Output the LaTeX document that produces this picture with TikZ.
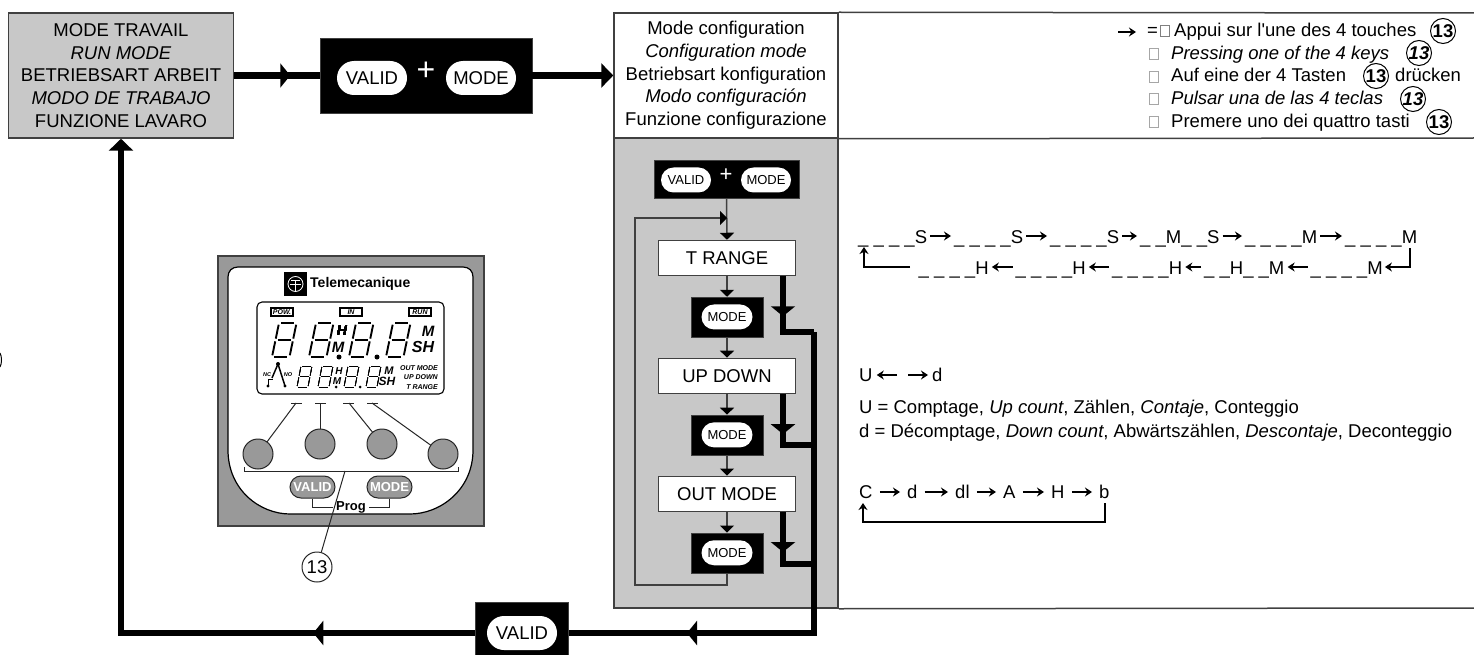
\documentclass[tikz,border=0pt]{standalone}
\usepackage{fontspec}
\setmainfont{Liberation Sans}[Ligatures=TeXOff]
\usetikzlibrary{positioning, arrows.meta, shapes.misc, decorations.markings}
\definecolor{panelgray}{RGB}{200,200,200}
\definecolor{devicegray}{RGB}{153,153,153}
\definecolor{linegray}{RGB}{64,64,64}
\newcommand{\bigtxt}{\fontsize{18.5}{22.7}\selectfont}
\newcommand{\smalltxt}{\fontsize{13}{15}\selectfont}
% slanted seven segment digit: x, y, width, height, slant, line width
\newcommand{\lcddigit}[6]{
\begin{scope}[shift={(#1,#2)}, x={(#3pt,0pt)}, y={(#5pt,#4pt)}, line width=#6pt, draw=black]
\draw (0.12,1) -- (0.88,1);
\draw (0.12,0.5) -- (0.88,0.5);
\draw (0.12,0) -- (0.88,0);
\draw (0,0.05) -- (0,0.46);
\draw (0,0.54) -- (0,0.95);
\draw (1,0.05) -- (1,0.46);
\draw (1,0.54) -- (1,0.95);
\end{scope}
}
\begin{document}
\begin{tikzpicture}[x=1pt, y=-1pt, font=\bigtxt, node distance=20.5pt,
titlebox/.style={rectangle, draw=linegray, line width=1.5pt, align=center, inner sep=0pt},
stepbox/.style={rectangle, draw=linegray, line width=1.5pt, fill=white, minimum width=137pt, minimum height=35pt, inner sep=0pt},
keybox/.style={rectangle, draw=linegray, fill=black, inner sep=0pt},
keypill/.style={rounded rectangle, fill=white, inner sep=0pt, minimum width=#1pt},
rowtxt/.style={anchor=base west, inner sep=0pt},
tofu/.style={rectangle, draw=gray!70, line width=0.7pt, minimum width=9pt, minimum height=11pt, inner sep=0pt},
ringnum/.style={circle, draw=black, line width=1pt, minimum size=25pt, inner sep=0pt, font=\bigtxt\bfseries},
thickline/.style={line width=6.5pt, draw=black},
flowline/.style={line width=1.5pt, draw=linegray},
flowarrow/.style={flowline, -{Triangle[length=7pt,width=14pt,color=black]}},
bigarrow/.style={thickline, -{Triangle[length=12pt,width=24pt]}},
rowarrow/.style={line width=2pt, -{Stealth[length=7pt,width=9pt]}, shorten >=#1pt, shorten <=#1pt},
rowarrow/.default=3,
midhead/.style={postaction={decorate, decoration={markings, mark=at position #1pt with {\arrow{Triangle[length=10pt,width=24pt]}}}}},
lcdtxt/.style={inner sep=0pt, font=\fontsize{#1}{#1}\selectfont\bfseries\itshape},
padline/.style={draw=black!85, line width=1pt}
]
\useasboundingbox (0,0) rectangle (1474,655);

% Configuration table
\node[titlebox, fill=panelgray, minimum width=224pt, minimum height=470pt] (panel) at (726,373) {};
\node[titlebox, minimum width=224pt, minimum height=125pt] (cfgmode) at (726,75.5)
{Mode configuration\\\textit{Configuration mode}\\Betriebsart konfiguration\\\textit{Modo configuración}\\Funzione configurazione};
\coordinate (tabletop) at (1474,13);
\coordinate (tablemid) at (1474,138);
\coordinate (tablebot) at (1474,608);
\draw[flowline] (cfgmode.north east) -- (tabletop);
\draw[flowline] (cfgmode.south east) -- (tablemid);
\draw[flowline] (panel.south east) -- (tablebot);

% Run mode
\node[titlebox, fill=panelgray, minimum width=225pt, minimum height=125pt] (runmode) at (121,75.5)
{MODE TRAVAIL\\\textit{RUN MODE}\\BETRIEBSART ARBEIT\\\textit{MODO DE TRABAJO}\\FUNZIONE LAVARO};

% Top keys
\node[keybox, minimum width=212pt, minimum height=75pt] (topkeys) at (426,75.5) {};
\node[keypill=70, minimum height=34pt] (topvalid) at (372,78) {VALID};
\node[keypill=70, minimum height=34pt] (topmode) at (481,78) {MODE};
\node[text=white, inner sep=0pt, font=\fontsize{32}{32}\selectfont] (topplus) at (426,71) {+};

% Flow column
\node[keybox, minimum width=145pt, minimum height=38pt] (flowkeys) at (726.5,179) {};
\node[keypill=50, minimum height=25pt, font=\smalltxt] (flowvalid) at (686,180) {VALID};
\node[keypill=50, minimum height=25pt, font=\smalltxt] (flowmode) at (766,180) {MODE};
\node[text=white, inner sep=0pt, font=\fontsize{22}{22}\selectfont] (flowplus) at (726,175) {+};
\node[stepbox] (trange) at (727,258) {T RANGE};
\node[keybox, minimum width=72pt, minimum height=40pt, below=of trange] (modeA) {};
\node[keypill=51, minimum height=25pt, font=\smalltxt] (pillA) at (modeA) {MODE};
\node[stepbox, below=of modeA] (updown) {UP DOWN};
\node[keybox, minimum width=72pt, minimum height=40pt, below=of updown] (modeB) {};
\node[keypill=51, minimum height=25pt, font=\smalltxt] (pillB) at (modeB) {MODE};
\node[stepbox, below=of modeB] (outmode) {OUT MODE};
\node[keybox, minimum width=72pt, minimum height=40pt, below=of outmode] (modeC) {};
\node[keypill=51, minimum height=25pt, font=\smalltxt] (pillC) at (modeC) {MODE};

% Bottom key
\node[keybox, minimum width=93pt, minimum height=53pt] (botkey) at (522,628.5) {};
\node[keypill=70, minimum height=34pt] (botvalid) at (522,633) {VALID};

% Thick arrows
\coordinate (joinA) at (814,332);
\coordinate (joinB) at (814,445);
\coordinate (joinC) at (814,564);
\coordinate (trunkend) at (814,633);
\draw[thickline, midhead=56] (runmode.east) -- (topkeys.west);
\draw[bigarrow] (topkeys.east) -- (cfgmode.west);
\draw[thickline, midhead=40, line join=miter] ([xshift=56pt]trange.south) |- (joinA);
\draw[thickline, midhead=40, line join=miter] ([xshift=56pt]updown.south) |- (joinB);
\draw[thickline, midhead=40, line join=miter] ([xshift=56pt]outmode.south) |- (joinC);
\draw[thickline, midhead=428, line join=miter] (joinA) -- (trunkend) -- (trunkend -| botkey.east);
\draw[bigarrow, midhead=162, line join=miter] (botkey.west |- trunkend) -| (runmode.south);

% Thin arrows
\coordinate (loopbl) at (635,585);
\coordinate (looptl) at (635,218);
\coordinate (loopin) at (727,218);
\draw[flowarrow] (flowkeys.south) -- (trange.north);
\draw[flowarrow] (trange.south) -- (modeA.north);
\draw[flowarrow] (modeA.south) -- (updown.north);
\draw[flowarrow] (updown.south) -- (modeB.north);
\draw[flowarrow] (modeB.south) -- (outmode.north);
\draw[flowarrow] (outmode.south) -- (modeC.north);
\draw[flowarrow] (modeC.south) |- (loopbl) -- (looptl) -- (loopin);

% Key legend
\coordinate (keytail) at (1118,32);
\node[rowtxt] (keyeq) at (1147,37) {=};
\draw[rowarrow=0] (keytail) -- ([xshift=-11pt,yshift=5pt]keyeq.base west);
\node[tofu, draw=gray] (tofuA) at (1165,31) {};
\node[tofu] (tofuB) at (1153.5,54) {};
\node[tofu] (tofuC) at (1153.5,77) {};
\node[tofu] (tofuD) at (1153.5,99) {};
\node[tofu] (tofuE) at (1153.5,122) {};
\node[rowtxt] (keyfr) at (1174,37) {Appui sur l'une des 4 touches};
\node[rowtxt] (keyen) at (1171,59.5) {\textit{Pressing one of the 4 keys}};
\node[rowtxt] (keyde) at (1171,82) {Auf eine der 4 Tasten};
\node[rowtxt] (keydeb) at (1395,82) {drücken};
\node[rowtxt] (keyes) at (1171,105) {\textit{Pulsar una de las 4 teclas}};
\node[rowtxt] (keyit) at (1171,128) {Premere uno dei quattro tasti};
\node[ringnum] (ringfr) at (1443,31) {13};
\node[ringnum, font=\bigtxt\bfseries\itshape] (ringen) at (1419,53) {13};
\node[ringnum] (ringde) at (1376,76) {13};
\node[ringnum, font=\bigtxt\bfseries\itshape] (ringes) at (1413,99) {13};
\node[ringnum] (ringit) at (1439,122) {13};

% T RANGE sequence
\node[rowtxt] (toA) at (858,243) {\_ \_ \_ \_S};
\node[rowtxt] (toB) at (954,243) {\_ \_ \_ \_S};
\node[rowtxt] (toC) at (1050,243) {\_ \_ \_ \_S};
\node[rowtxt] (toD) at (1140,243) {\_ \_M\_ \_S};
\node[rowtxt] (toE) at (1245,243) {\_ \_ \_ \_M};
\node[rowtxt] (toF) at (1345,243) {\_ \_ \_ \_M};
\foreach \a/\b in {toA/toB, toB/toC, toC/toD, toD/toE, toE/toF}
  \draw[rowarrow] ([yshift=7pt]\a.base east) -- ([yshift=7pt]\b.base west);
\node[rowtxt] (boA) at (918.5,274) {\_ \_ \_ \_H};
\node[rowtxt] (boB) at (1015.5,274) {\_ \_ \_ \_H};
\node[rowtxt] (boC) at (1112,274) {\_ \_ \_ \_H};
\node[rowtxt] (boD) at (1204,274) {\_ \_H\_ \_M};
\node[rowtxt] (boE) at (1310.5,274) {\_ \_ \_ \_M};
\foreach \a/\b in {boB/boA, boC/boB, boD/boC, boE/boD}
  \draw[rowarrow] ([yshift=7pt]\a.base west) -- ([yshift=7pt]\b.base east);
\coordinate (seqR) at (1410,248);
\coordinate (seqRc) at (1410,267);
\coordinate (seqL) at (910,267);
\coordinate (seqLc) at (864,267);
\coordinate (seqLup) at (864,247);
\draw[rowarrow=0] (seqR) -- (seqRc) -- ([yshift=7pt,xshift=2pt]boE.base east);
\draw[rowarrow=0] (seqL) -- (seqLc) -- (seqLup);

% Up down
\node[rowtxt] (upU) at (859,381) {U};
\node[rowtxt] (upD) at (932,381) {d};
\coordinate (upmidL) at (897,375);
\coordinate (upmidR) at (908,375);
\draw[rowarrow=0] (upmidL) -- ([xshift=4pt,yshift=6pt]upU.base east);
\draw[rowarrow=0] (upmidR) -- ([xshift=-4pt,yshift=6pt]upD.base west);
\node[rowtxt] (upline) at (859,413) {U = Comptage, \textit{Up count}, Zählen, \textit{Contaje}, Conteggio};
\node[rowtxt] (downline) at (859,437) {d = Décomptage, \textit{Down count}, Abwärtszählen, \textit{Descontaje}, Deconteggio};

% Out mode
\node[rowtxt] (outC) at (859,498) {C};
\node[rowtxt] (outd) at (907,498) {d};
\node[rowtxt] (outdl) at (955,498) {dl};
\node[rowtxt] (outA) at (1003,498) {A};
\node[rowtxt] (outH) at (1051,498) {H};
\node[rowtxt] (outb) at (1099,498) {b};
\foreach \a/\b in {outC/outd, outd/outdl, outdl/outA, outA/outH, outH/outb}
  \draw[rowarrow=7] ([yshift=6pt]\a.base east) -- ([yshift=6pt]\b.base west);
\coordinate (outR) at (1105,503);
\coordinate (outRc) at (1105,522);
\coordinate (outLc) at (863,522);
\coordinate (outLup) at (863,503);
\draw[rowarrow=0] (outR) -- (outRc) -- (outLc) -- (outLup);

% Device
\draw[draw=linegray, line width=1.2pt, fill=devicegray] (218,256) rectangle (484,526);
\draw[draw=black, line width=1.2pt, fill=white] (238,267) -- (463,267)
  .. controls (469,267) and (473,271) .. (473,277) -- (473,450)
  .. controls (473,490) and (440,514) .. (410,514) -- (290,514)
  .. controls (260,514) and (228,490) .. (228,450) -- (228,277)
  .. controls (228,271) and (232,267) .. (238,267) -- cycle;
\fill[black] (284,272) rectangle (307,296);
\draw[white, line width=0.8pt] (295.5,284) circle (7.5);
\draw[white, line width=0.8pt] (291,280) -- (300,280) (290,284) -- (301,284) (295.5,280) -- (295.5,291);
\node[inner sep=0pt, anchor=west, font=\fontsize{14}{14}\selectfont\bfseries] (brand) at (310,284) {Telemecanique};
\draw[draw=black, line width=1.1pt, rounded corners=5pt] (257,302) rectangle (444,394);
\foreach \nm/\xx in {POW./282, IN/351, RUN/420}
  \node[draw=black, line width=1.2pt, minimum width=22pt, minimum height=8pt, inner sep=0pt,
  font=\fontsize{7}{7}\selectfont\bfseries\itshape] at (\xx,312) {\nm};
\foreach \xx in {272,309,349,386} \lcddigit{\xx}{357}{17.5}{34}{7}{1.9}
\foreach \xx in {297,318,344,366} \lcddigit{\xx}{387}{11}{21}{4}{0.7}
\node[lcdtxt=14] at (342,331) {H};
\node[lcdtxt=15] at (338,347) {M};
\node[lcdtxt=15] at (428,331) {M};
\node[lcdtxt=16] at (423,347) {SH};
\node[lcdtxt=10] at (339,371) {H};
\node[lcdtxt=10] at (337,381) {M};
\node[lcdtxt=11] at (389,371) {M};
\node[lcdtxt=12] at (387,381) {SH};
\node[lcdtxt=7, anchor=east] at (438,368) {OUT MODE};
\node[lcdtxt=7, anchor=east] at (438,377) {UP DOWN};
\node[lcdtxt=7, anchor=east] at (438,387) {T RANGE};
\node[lcdtxt=5.5] at (267,375) {NC};
\node[lcdtxt=5.5] at (288,375) {NO};
\fill[black] (339,357) circle (2.5) (377,357) circle (2.5) (336,387) circle (1.5) (360,387) circle (1.5)
  (278,364) circle (2) (268,386) circle (1.7) (285,386) circle (1.7);
\draw[black, line width=1.5pt] (272,378) -- (278,364) -- (285,386);
\draw[black, line width=0.7pt] (268,386) |- (273,379);

% Keypad
\foreach \xx/\yy/\tx/\ta/\tb in {258/454/296/291/302, 320/444/320/315/326, 382/444/349/343/354, 443/454/372/367/378}{
  \draw[padline] (\ta,403) -- (\tb,403);
  \draw[padline] (\tx,403) -- (\xx,\yy);
  \node[circle, padline, fill=devicegray, minimum size=30pt, inner sep=0pt] at (\xx,\yy) {};
}
\draw[padline] (244,467) -- (244,471) -- (458,471) -- (458,467);
\node[rounded rectangle, padline, fill=devicegray, minimum width=45pt, minimum height=22pt,
inner sep=0pt, text=white, font=\smalltxt\bfseries] (devvalid) at (312.5,487) {VALID};
\node[rounded rectangle, padline, fill=devicegray, minimum width=45pt, minimum height=22pt,
inner sep=0pt, text=white, font=\smalltxt\bfseries] (devmode) at (389.5,487) {MODE};
\node[inner sep=0pt, font=\smalltxt\bfseries] (prog) at (351,507) {Prog};
\draw[padline] (devvalid.south) |- ([xshift=-3pt]prog.west);
\draw[padline] (devmode.south) |- ([xshift=3pt]prog.east);
\coordinate (padbar) at (345,471);
\node[circle, padline, minimum size=30pt, inner sep=0pt] (callout) at (317,567) {13};
\draw[padline] (padbar) -- (callout);

% Clipped ring at page edge
\draw[draw=black, line width=1pt] (0,353) .. controls (2,356) and (2,364) .. (0,367);
\end{tikzpicture}
\end{document}
